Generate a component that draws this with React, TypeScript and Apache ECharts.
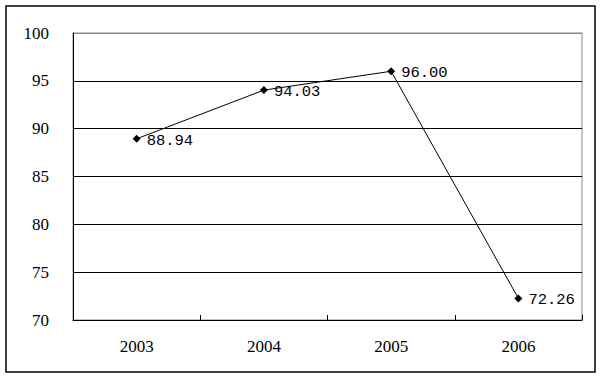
import React, { useEffect, useRef } from "react";
import * as echarts from "echarts";

const categories = ["2003", "2004", "2005", "2006"];
const values = [88.94, 94.03, 96.0, 72.26];
const yMin = 70;
const yMax = 100;
const yInterval = 5;

const SERIF = "'Liberation Serif', 'DejaVu Serif', 'Times New Roman', serif";

export default function App() {
  const ref = useRef<HTMLDivElement>(null);
  useEffect(() => {
    if (!ref.current) return;
    const chart = echarts.init(ref.current, undefined, { renderer: "svg" });
    chart.setOption({
      animation: false,
      backgroundColor: "#fff",
      graphic: [
        {
          type: "rect",
          shape: { x: 6, y: 6, width: 589, height: 366 },
          style: { fill: "none", stroke: "#000", lineWidth: 1.5 },
          z: -1,
        },
      ],
      grid: {
        left: 73,
        top: 33,
        right: 20,
        bottom: 59,
        show: true,
        borderColor: "#888",
        borderWidth: 1,
      },
      xAxis: {
        type: "category",
        data: categories,
        boundaryGap: true,
        axisLine: { lineStyle: { color: "#000", width: 1 } },
        axisTick: { show: true, inside: true, length: 5, lineStyle: { color: "#000" } },
        axisLabel: {
          color: "#000",
          fontFamily: SERIF,
          fontSize: 17,
          margin: 18,
        },
      },
      yAxis: {
        type: "value",
        min: yMin,
        max: yMax,
        interval: yInterval,
        axisLine: { show: true, lineStyle: { color: "#000", width: 1 } },
        axisTick: { show: false },
        axisLabel: {
          color: "#000",
          fontFamily: SERIF,
          fontSize: 17,
          margin: 24,
        },
        splitLine: {
          show: true,
          lineStyle: {
            color: ["#000", "#000", "#000", "#000", "#000", "#000", "#888"],
            width: 1,
          },
        },
      },
      series: [
        {
          type: "line",
          data: values,
          symbol: "diamond",
          symbolSize: 8,
          itemStyle: { color: "#000" },
          lineStyle: { color: "#000", width: 1 },
          label: {
            show: true,
            position: "right",
            distance: 6,
            offset: [0, 2],
            color: "#000",
            fontFamily: "'Liberation Mono', 'DejaVu Sans Mono', monospace",
            fontSize: 15.5,
            formatter: (p: any) => Number(p.value).toFixed(2),
          },
        },
      ],
    });
    return () => chart.dispose();
  }, []);
  return <div ref={ref} style={{ width: 602, height: 379, position: "absolute", left: 0, top: 0 }} />;
}
